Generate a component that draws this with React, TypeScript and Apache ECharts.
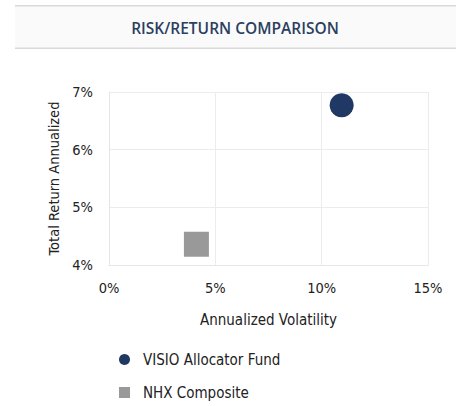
import React, { useEffect, useRef } from "react";
import * as echarts from "echarts";

const seriesNames = ["VISIO Allocator Fund", "NHX Composite"];
const volatility = [10.94, 4.11];
const totalReturn = [6.77, 4.36];
const seriesColors = ["#1f3864", "#999999"];
const seriesSymbols = ["circle", "rect"];
const symbolSizes = [24, 25];
const titleText = "RISK/RETURN COMPARISON";
const xAxisName = "Annualized Volatility";
const yAxisName = "Total Return Annualized";

export default function App() {
  const ref = useRef<HTMLDivElement>(null);
  useEffect(() => {
    const chart = echarts.init(ref.current!, null, { renderer: "svg" });
    const font = "DejaVu Sans Condensed";
    chart.setOption({
      animation: false,
      backgroundColor: "#ffffff",
      graphic: [
        {
          type: "rect",
          shape: { x: 15, y: 5, width: 441, height: 44 },
          style: { fill: "#fafafa" },
          silent: true,
        },
        {
          type: "rect",
          shape: { x: 15, y: 5, width: 441, height: 1.5 },
          style: { fill: "#d9d9d9" },
          silent: true,
        },
        {
          type: "rect",
          shape: { x: 15, y: 47.5, width: 441, height: 1.5 },
          style: { fill: "#d9d9d9" },
          silent: true,
        },
        {
          type: "text",
          x: 235,
          y: 28,
          style: {
            text: titleText,
            fill: "#2b3f61",
            font: "600 15.5px 'Open Sans'",
            textAlign: "center",
            textVerticalAlign: "middle",
          },
          silent: true,
        },
      ],
      grid: { left: 109, right: 33, top: 92, bottom: 141, containLabel: false },
      xAxis: {
        type: "value",
        min: 0,
        max: 15,
        interval: 5,
        name: xAxisName,
        nameLocation: "middle",
        nameGap: 47,
        nameTextStyle: { fontFamily: font, fontSize: 15, color: "#222" },
        axisLine: { show: true, lineStyle: { color: "#e6e6e6" } },
        axisTick: { show: false },
        axisLabel: { formatter: "{value}%", fontFamily: font, fontSize: 14.5, color: "#222", margin: 15 },
        splitLine: { show: true, lineStyle: { color: "#ececec" } },
      },
      yAxis: {
        type: "value",
        min: 4,
        max: 7,
        interval: 1,
        name: yAxisName,
        nameLocation: "middle",
        nameGap: 46,
        nameTextStyle: { fontFamily: font, fontSize: 14.5, color: "#222" },
        axisLine: { show: true, lineStyle: { color: "#e6e6e6" } },
        axisTick: { show: false },
        axisLabel: { formatter: "{value}%", fontFamily: font, fontSize: 14.5, color: "#222", margin: 16 },
        splitLine: { show: true, lineStyle: { color: "#ececec" } },
      },
      legend: {
        orient: "vertical",
        left: 119,
        top: 352,
        padding: 0,
        height: 54,
        itemWidth: 11,
        itemHeight: 11,
        itemGap: 18,
        textStyle: { fontFamily: font, fontSize: 15, color: "#222", padding: [0, 0, 0, 8] },
        data: seriesNames.map((n, i) => ({ name: n, icon: seriesSymbols[i] })),
      },
      series: seriesNames.map((n, i) => ({
        name: n,
        type: "scatter",
        symbol: seriesSymbols[i],
        symbolSize: symbolSizes[i],
        itemStyle: { color: seriesColors[i], opacity: 1 },
        data: [[volatility[i], totalReturn[i]]],
      })),
    });
    return () => chart.dispose();
  }, []);
  return (
    <div
      ref={ref}
      style={{ position: "absolute", left: 0, top: 0, width: 461, height: 406 }}
    />
  );
}
